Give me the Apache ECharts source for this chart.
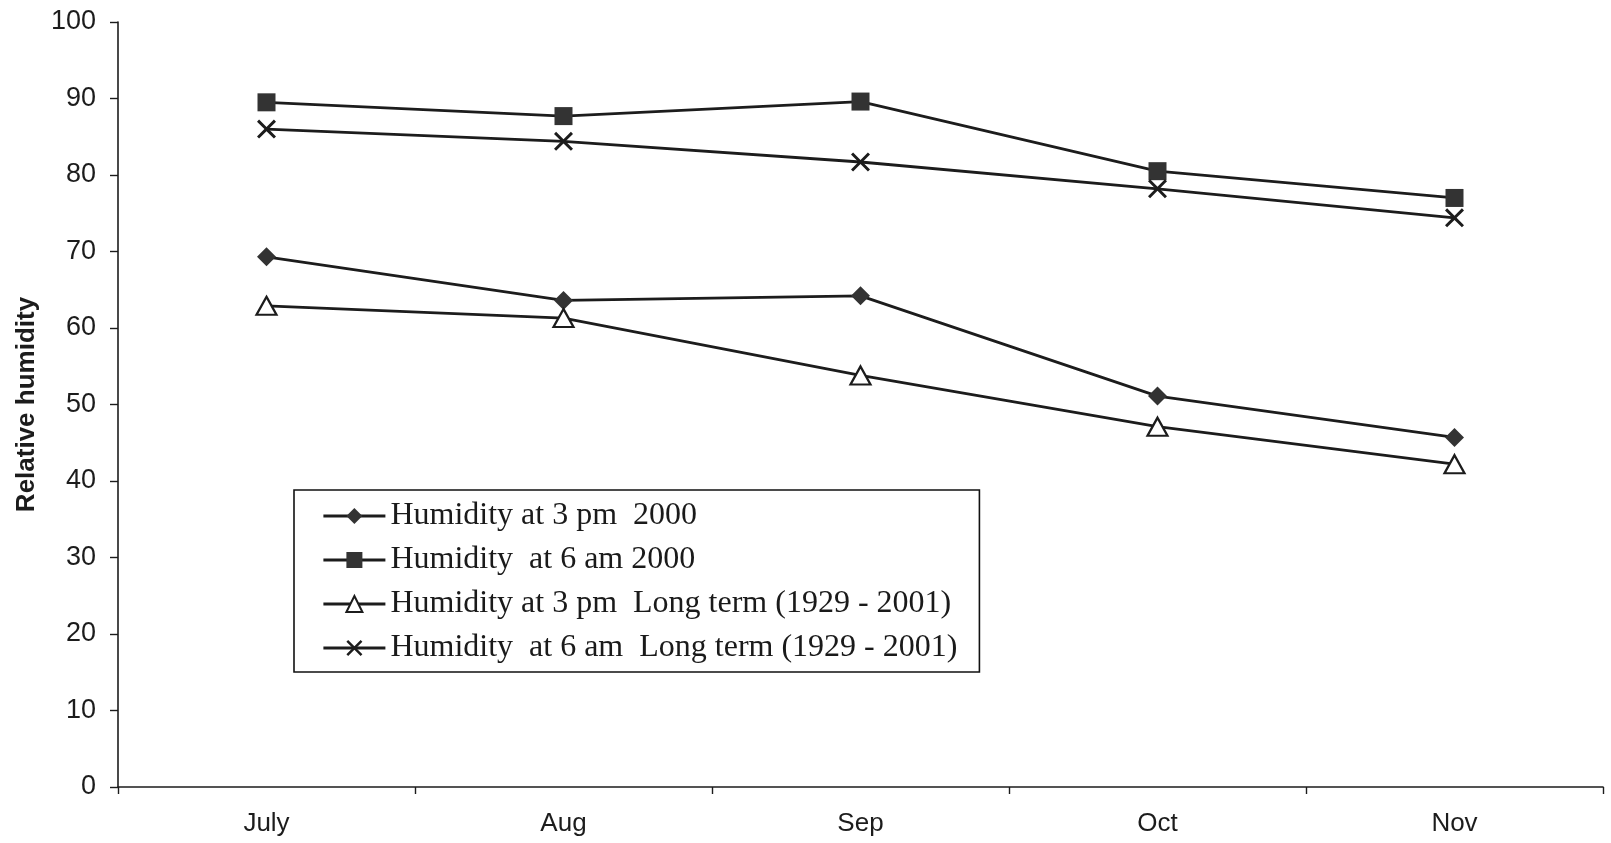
<!DOCTYPE html>
<html>
<head>
<meta charset="utf-8">
<title>Relative humidity</title>
<script src="https://cdn.jsdelivr.net/npm/echarts@6/dist/echarts.min.js"></script>
<style>
  html, body { margin: 0; padding: 0; background: #fff; }
  #chart { width: 1611px; height: 843px; }
</style>
</head>
<body>
<div id="chart"></div>
<script>
// Months of the observation season
const months = ['July', 'Aug', 'Sep', 'Oct', 'Nov'];

// Relative humidity (%) per month
const humidity3pm2000 = [69.3, 63.6, 64.2, 51.1, 45.7];
const humidity6am2000 = [89.5, 87.7, 89.6, 80.5, 77.0];
const humidity3pmLongTerm = [62.9, 61.3, 53.8, 47.1, 42.2];
const humidity6amLongTerm = [86.0, 84.4, 81.7, 78.2, 74.4];

// Series names as shown in the legend
const seriesNames = [
  'Humidity at 3 pm  2000',
  'Humidity  at 6 am 2000',
  'Humidity at 3 pm  Long term (1929 - 2001)',
  'Humidity  at 6 am  Long term (1929 - 2001)'
];

const yTicks = { min: 0, max: 100, step: 10 };

const ink = '#1c1c1c';
const markFill = '#333';
// Filled "X" cross outline
const crossPath = 'path://M0,1.1L1.1,0L5,3.9L8.9,0L10,1.1L6.1,5L10,8.9L8.9,10L5,6.1L1.1,10L0,8.9L3.9,5Z';

function lineSeries(name, data, symbol, size, fill, borderW) {
  return {
    name: name,
    type: 'line',
    data: data,
    symbol: symbol,
    symbolSize: size,
    showSymbol: true,
    lineStyle: { color: ink, width: 2.8 },
    itemStyle: { color: fill, borderColor: ink, borderWidth: borderW },
    emphasis: { disabled: true },
    z: 3
  };
}

const chart = echarts.init(document.getElementById('chart'), null, { renderer: 'canvas' });

chart.setOption({
  animation: false,
  backgroundColor: '#fff',
  grid: {
    left: 118, right: 8, top: 22, bottom: 56,
    containLabel: false,
    outerBoundsMode: 'none'
  },
  legend: {
    orient: 'vertical',
    left: 294,
    top: 490,
    padding: [10, 22, 8, 28],
    itemGap: 12,
    itemWidth: 62,
    itemHeight: 20,
    backgroundColor: '#fff',
    borderColor: '#111',
    borderWidth: 1.6,
    borderRadius: 0,
    selectedMode: false,
    data: seriesNames,
    lineStyle: { width: 2.8, color: ink },
    textStyle: {
      fontFamily: '"Liberation Serif", "Times New Roman", serif',
      fontSize: 32,
      color: '#1a1a1a',
      padding: [0, 0, 0, 0]
    }
  },
  xAxis: {
    type: 'category',
    data: months,
    boundaryGap: true,
    axisLine: { show: true, lineStyle: { color: ink, width: 1.6 } },
    axisTick: { show: true, inside: false, length: 7, alignWithLabel: false, lineStyle: { color: ink, width: 1.4 } },
    axisLabel: {
      margin: 24,
      fontFamily: '"Liberation Sans", Arial, sans-serif',
      fontSize: 26,
      color: ink
    },
    splitLine: { show: false }
  },
  yAxis: {
    type: 'value',
    min: yTicks.min,
    max: yTicks.max,
    interval: yTicks.step,
    name: 'Relative humidity',
    nameLocation: 'middle',
    nameRotate: 90,
    nameGap: 78,
    nameTextStyle: {
      fontFamily: '"Liberation Sans", Arial, sans-serif',
      fontWeight: 'bold',
      fontSize: 26,
      color: ink
    },
    axisLine: { show: true, lineStyle: { color: ink, width: 1.6 } },
    axisTick: { show: true, inside: false, length: 8, lineStyle: { color: ink, width: 1.4 } },
    axisLabel: {
      margin: 22,
      fontFamily: '"Liberation Sans", Arial, sans-serif',
      fontSize: 27,
      color: ink
    },
    splitLine: { show: false }
  },
  series: [
    lineSeries(seriesNames[0], humidity3pm2000, 'diamond', 19, markFill, 0),
    lineSeries(seriesNames[1], humidity6am2000, 'rect', 18, markFill, 0),
    lineSeries(seriesNames[2], humidity3pmLongTerm, 'triangle', [20, 18], '#fff', 2.2),
    lineSeries(seriesNames[3], humidity6amLongTerm, crossPath, 19, ink, 0)
  ]
});
</script>
</body>
</html>
